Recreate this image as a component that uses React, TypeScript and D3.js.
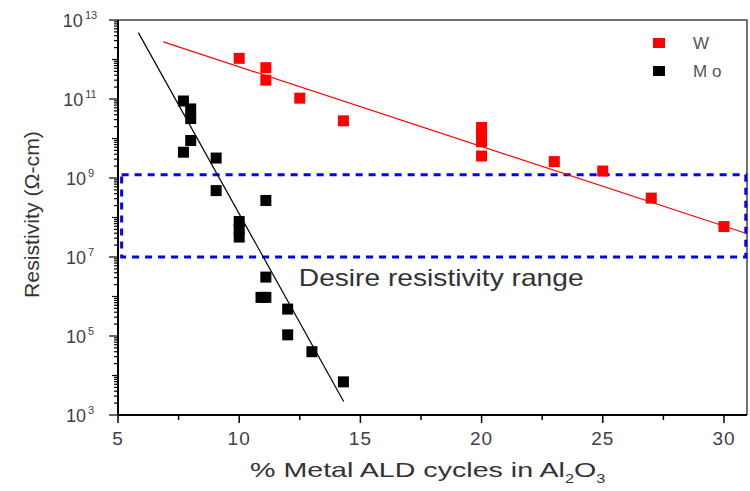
import React, { useEffect, useRef } from 'react';
import * as d3 from 'd3';

// Mo series: % metal ALD cycles, resistivity (ohm-cm)
const moX = [7.7, 8.0, 8.0, 8.0, 7.7, 9.05, 9.05, 11.1, 10.0, 10.0, 10.0, 11.1, 10.9, 11.1, 12.0, 12.0, 13.0, 14.3];
const moY = [8.9e10, 5.6e10, 3.2e10, 8.9e9, 4.5e9, 3.2e9, 4.8e8, 2.7e8, 7.9e7, 5.0e7, 3.2e7, 3.1e6, 9.5e5, 9.5e5, 4.8e5, 1.07e5, 4.0e4, 6.9e3];

// W series
const wX = [10.0, 11.1, 11.1, 12.5, 14.3, 20.0, 20.0, 20.0, 20.0, 23.0, 25.0, 27.0, 30.0];
const wY = [1.07e12, 6.2e11, 3.0e11, 1.05e11, 2.8e10, 1.9e10, 1.26e10, 8.3e9, 3.6e9, 2.6e9, 1.5e9, 3.1e8, 5.9e7];

// linear fits in log space (end points)
const moFitX = [5.84, 14.31];
const moFitY = [4.8e12, 2.2e3];
const wFitX = [6.87, 30.84];
const wFitY = [2.8e12, 4.1e7];

// desired range box
const rangeX = [5.15, 30.9];
const rangeY = [1e7, 1.2e9];

const xTicks = [5, 10, 15, 20, 25, 30];
const xMinorTicks = [7.5, 12.5, 17.5, 22.5, 27.5];
const yExponents = [3, 5, 7, 9, 11, 13];

const W = 750;
const H = 491;
const FONT = '"Liberation Sans", Arial, sans-serif';

// stretch a text group horizontally so it spans `width` px
const stretch = (grp: any, x0: number, y0: number, width: number, rotate = false) => {
  const w = grp.node().getBBox().width;
  const k = width / w;
  grp.attr('transform', rotate
    ? `translate(${x0},${y0}) rotate(-90) scale(${k},1)`
    : `translate(${x0},${y0}) scale(${k},1)`);
};

const Chart = () => {
  const svgRef = useRef<SVGSVGElement>(null);

  useEffect(() => {
    const svg = d3.select(svgRef.current);
    svg.selectAll('*').remove();

    const margin = { top: 20, right: 3, bottom: 76, left: 118 };
    const innerW = W - margin.left - margin.right;
    const innerH = H - margin.top - margin.bottom;

    const x = d3.scaleLinear().domain([5, 30.95]).range([0, innerW]);
    const y = d3.scaleLog().domain([1e3, 1e13]).range([innerH, 0]);

    const g = svg.append('g').attr('transform', `translate(${margin.left},${margin.top})`);

    // frame top/right
    g.append('path')
      .attr('d', `M0,0H${innerW}V${innerH}`)
      .attr('fill', 'none')
      .attr('stroke', '#444')
      .attr('stroke-width', 1.5);

    // range box
    g.append('rect')
      .attr('x', x(rangeX[0]))
      .attr('y', y(rangeY[1]))
      .attr('width', x(rangeX[1]) - x(rangeX[0]))
      .attr('height', y(rangeY[0]) - y(rangeY[1]))
      .attr('fill', 'none')
      .attr('stroke', '#0000ff')
      .attr('stroke-width', 3)
      .attr('stroke-dasharray', '7,6');

    const desire = g.append('g');
    desire.append('text')
      .attr('font-family', FONT)
      .attr('font-size', 23)
      .attr('fill', '#333')
      .text('Desire resistivity range');
    stretch(desire, x(12.5) - 1, y(rangeY[0]) + 29, 285);

    // fit lines
    const line = d3.line<[number, number]>().x(d => x(d[0])).y(d => y(d[1]));
    g.append('path')
      .datum(d3.zip(wFitX, wFitY) as [number, number][])
      .attr('d', line)
      .attr('stroke', '#ff0000')
      .attr('stroke-width', 1.2)
      .attr('fill', 'none');
    g.append('path')
      .datum(d3.zip(moFitX, moFitY) as [number, number][])
      .attr('d', line)
      .attr('stroke', '#000')
      .attr('stroke-width', 1.2)
      .attr('fill', 'none');

    const s = 11;
    g.selectAll('.w')
      .data(d3.zip(wX, wY))
      .enter()
      .append('rect')
      .attr('x', d => x(d[0]) - s / 2)
      .attr('y', d => y(d[1]) - s / 2)
      .attr('width', s)
      .attr('height', s)
      .attr('fill', '#ff0000');

    g.selectAll('.mo')
      .data(d3.zip(moX, moY))
      .enter()
      .append('rect')
      .attr('x', d => x(d[0]) - s / 2)
      .attr('y', d => y(d[1]) - s / 2)
      .attr('width', s)
      .attr('height', s)
      .attr('fill', '#000');

    // x axis
    const xa = g.append('g').attr('transform', `translate(0,${innerH})`);
    xa.append('line').attr('x1', 0).attr('x2', innerW).attr('stroke', '#000').attr('stroke-width', 2);
    xa.selectAll('.xt')
      .data(xTicks)
      .enter()
      .append('line')
      .attr('x1', d => x(d))
      .attr('x2', d => x(d))
      .attr('y1', 0)
      .attr('y2', 8)
      .attr('stroke', '#000')
      .attr('stroke-width', 1.5);
    xa.selectAll('.xm')
      .data(xMinorTicks)
      .enter()
      .append('line')
      .attr('x1', d => x(d))
      .attr('x2', d => x(d))
      .attr('y1', 0)
      .attr('y2', 5)
      .attr('stroke', '#000')
      .attr('stroke-width', 1.5);
    xa.selectAll('.xl')
      .data(xTicks)
      .enter()
      .append('text')
      .attr('x', d => x(d))
      .attr('y', 30)
      .attr('text-anchor', 'middle')
      .attr('font-family', FONT)
      .attr('font-size', 19)
      .attr('letter-spacing', 1)
      .attr('fill', '#404048')
      .text(d => d);

    // y axis
    const ya = g.append('g');
    ya.append('line').attr('y1', 0).attr('y2', innerH).attr('stroke', '#000').attr('stroke-width', 2);
    const minor: { v: number; len: number }[] = [];
    for (let e = 3; e < 13; e++) {
      for (let m = 2; m <= 9; m++) minor.push({ v: m * Math.pow(10, e), len: 4 });
    }
    for (let e = 3; e <= 13; e++) {
      minor.push({ v: Math.pow(10, e), len: yExponents.includes(e) ? 9 : 6 });
    }
    ya.selectAll('.yt')
      .data(minor)
      .enter()
      .append('line')
      .attr('x1', d => -d.len)
      .attr('x2', 0)
      .attr('y1', d => y(d.v))
      .attr('y2', d => y(d.v))
      .attr('stroke', '#000')
      .attr('stroke-width', 1.2);
    const yl = ya.selectAll('.yl')
      .data(yExponents)
      .enter()
      .append('text')
      .attr('x', -38)
      .attr('y', d => y(Math.pow(10, d)) + 7)
      .attr('text-anchor', 'middle')
      .attr('font-family', FONT)
      .attr('font-size', 18)
      .attr('fill', '#404048');
    yl.append('tspan').text('10');
    yl.append('tspan').attr('dx', 2).attr('dy', -8).attr('font-size', 11).text(d => d);

    // axis titles
    const yTitle = svg.append('g');
    yTitle.append('text')
      .attr('font-family', FONT)
      .attr('font-size', 20)
      .attr('fill', '#333')
      .text('Resistivity (Ω-cm)');
    stretch(yTitle, 39, 298, 167, true);

    const xTitle = svg.append('g');
    const xt = xTitle.append('text')
      .attr('font-family', FONT)
      .attr('font-size', 21)
      .attr('fill', '#333');
    xt.append('tspan').text('% Metal ALD cycles in Al');
    xt.append('tspan').attr('dy', 6).attr('font-size', 12).text('2');
    xt.append('tspan').attr('dy', -6).text('O');
    xt.append('tspan').attr('dy', 6).attr('font-size', 12).text('3');
    stretch(xTitle, 250, 477, 356);

    // legend
    const legend = [
      { name: 'W', color: '#ff0000' },
      { name: 'M o', color: '#000' },
    ];
    const lg = svg.append('g').attr('transform', 'translate(659,43)');
    legend.forEach((d, i) => {
      lg.append('rect')
        .attr('x', -6)
        .attr('y', i * 28 - 5)
        .attr('width', 12)
        .attr('height', 10)
        .attr('fill', d.color);
      lg.append('text')
        .attr('x', 34)
        .attr('y', i * 28 + 6)
        .attr('font-family', FONT)
        .attr('font-size', 17)
        .attr('fill', '#555')
        .text(d.name);
    });
  }, []);

  return <svg ref={svgRef} width={W} height={H} style={{ display: 'block', background: '#fff' }} />;
};

export default function App() {
  return (
    <div style={{ position: 'absolute', left: 0, top: 0 }}>
      <Chart />
    </div>
  );
}
